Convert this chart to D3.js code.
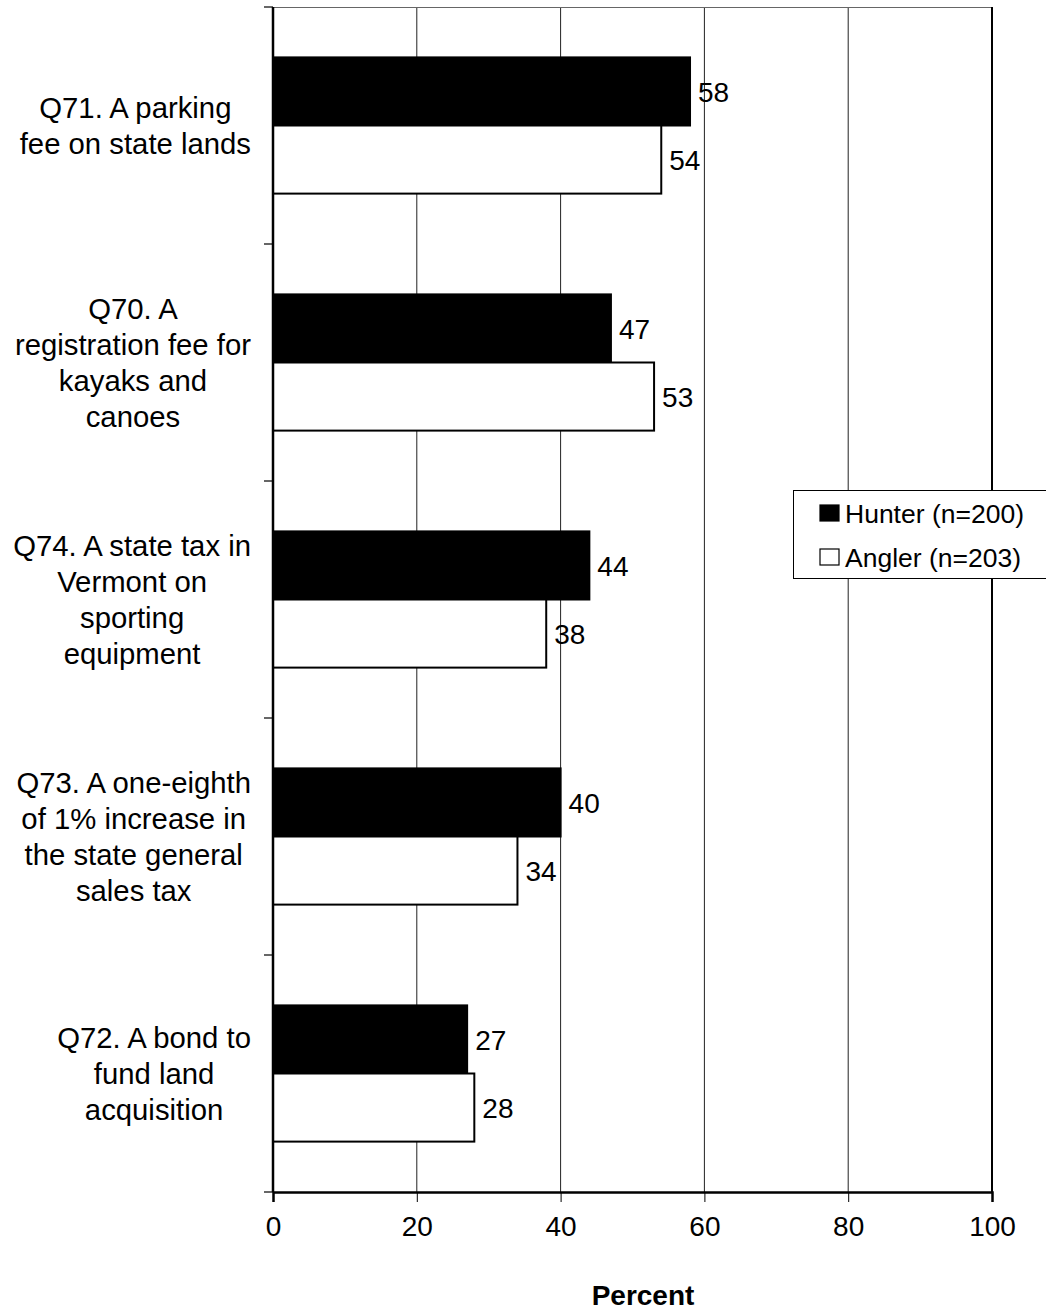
<!DOCTYPE html>
<html>
<head>
<meta charset="utf-8">
<script src="https://cdn.jsdelivr.net/npm/d3@7"></script>
<style>
  html, body { margin: 0; padding: 0; background: #fff; }
  svg { display: block; font-family: "Liberation Sans", Arial, sans-serif; }
</style>
</head>
<body>
<svg id="chart" width="1046" height="1310"></svg>
<script>
// Funding options, listed top to bottom, with their wrapped label lines
const categories = ["Q71", "Q70", "Q74", "Q73", "Q72"];
const categoryLines = [
  ["Q71. A parking", "fee on state lands"],
  ["Q70. A", "registration fee for", "kayaks and", "canoes"],
  ["Q74. A state tax in", "Vermont on", "sporting", "equipment"],
  ["Q73. A one-eighth", "of 1% increase in", "the state general", "sales tax"],
  ["Q72. A bond to", "fund land", "acquisition"]
];
const seriesNames = ["Hunter (n=200)", "Angler (n=203)"];
const hunterValues = [58, 47, 44, 40, 27];
const anglerValues = [54, 53, 38, 34, 28];
const xTicks = [0, 20, 40, 60, 80, 100];
const axisTitle = "Percent";

const svg = d3.select("#chart");
const plot = { left: 273, right: 992, top: 7, bottom: 1192 };
const fontSize = 28;
const categoryFontSize = 29.3;

const x = d3.scaleLinear().domain([0, 100]).range([plot.left, plot.right]);
const y0 = d3.scaleBand().domain(categories).range([plot.top, plot.bottom]).padding(0);
const y1 = d3.scaleBand().domain(seriesNames).range([0, y0.bandwidth()])
  .paddingInner(0).paddingOuter(0.74);

const rows = categories.map((c, i) => ({
  key: c,
  lines: categoryLines[i],
  values: [
    { series: seriesNames[0], value: hunterValues[i], fill: "#000" },
    { series: seriesNames[1], value: anglerValues[i], fill: "#fff" }
  ]
}));

// vertical gridlines
svg.append("g").selectAll("line")
  .data(xTicks.filter(t => t > 0 && t < 100))
  .join("line")
  .attr("x1", d => x(d)).attr("x2", d => x(d))
  .attr("y1", plot.top).attr("y2", plot.bottom)
  .attr("stroke", "#222").attr("stroke-width", 1);

// plot frame: top and right edges
svg.append("line")
  .attr("x1", plot.left).attr("x2", plot.right)
  .attr("y1", plot.top + 0.5).attr("y2", plot.top + 0.5)
  .attr("stroke", "#666").attr("stroke-width", 1);
svg.append("line")
  .attr("x1", plot.right).attr("x2", plot.right)
  .attr("y1", plot.top).attr("y2", plot.bottom)
  .attr("stroke", "#000").attr("stroke-width", 2);

// bars
const groups = svg.append("g").selectAll("g")
  .data(rows).join("g")
  .attr("transform", d => `translate(0,${y0(d.key)})`);

groups.selectAll("rect")
  .data(d => d.values)
  .join("rect")
  .attr("x", x(0))
  .attr("y", d => y1(d.series))
  .attr("width", d => x(d.value) - x(0))
  .attr("height", y1.bandwidth())
  .attr("fill", d => d.fill)
  .attr("stroke", "#000")
  .attr("stroke-width", 2);

// value labels
groups.selectAll("text")
  .data(d => d.values)
  .join("text")
  .attr("x", d => x(d.value) + 8)
  .attr("y", d => y1(d.series) + y1.bandwidth() / 2)
  .attr("dy", "0.36em")
  .attr("font-size", fontSize)
  .attr("fill", "#000")
  .text(d => d.value);

// left axis with outward ticks at category boundaries
const yAxis = svg.append("g");
yAxis.append("line")
  .attr("x1", plot.left).attr("x2", plot.left)
  .attr("y1", plot.top).attr("y2", plot.bottom)
  .attr("stroke", "#000").attr("stroke-width", 2.5);
const boundaries = categories.map(c => y0(c)).concat([plot.bottom]);
yAxis.selectAll("line.tick")
  .data(boundaries).join("line").attr("class", "tick")
  .attr("x1", plot.left - 9).attr("x2", plot.left)
  .attr("y1", d => d).attr("y2", d => d)
  .attr("stroke", "#000").attr("stroke-width", 1.2);

// category labels: block right-aligned, lines centred within the block
const labelRight = 251;
const lineGap = 36;
rows.forEach(r => {
  const cy = y0(r.key) + y0.bandwidth() / 2;
  const g = svg.append("g");
  const n = r.lines.length;
  const texts = r.lines.map((ln, j) => g.append("text")
    .attr("font-size", categoryFontSize)
    .attr("text-anchor", "middle")
    .attr("y", cy - (n - 1) * lineGap / 2 + j * lineGap + 10)
    .text(ln));
  const maxW = d3.max(texts, t => t.node().getComputedTextLength());
  texts.forEach(t => t.attr("x", labelRight - maxW / 2));
});

// bottom axis
const xAxis = d3.axisBottom(x).tickValues(xTicks).tickSize(10).tickPadding(14).tickFormat(d3.format("d"));
const gx = svg.append("g").attr("transform", `translate(0,${plot.bottom})`).call(xAxis);
gx.select(".domain").attr("stroke", "#000").attr("stroke-width", 2.5);
gx.selectAll(".tick line").attr("stroke", "#000").attr("stroke-width", 1);
gx.selectAll(".tick text")
  .attr("font-size", fontSize)
  .attr("font-family", "Liberation Sans, Arial, sans-serif")
  .attr("fill", "#000");

svg.append("text")
  .attr("x", 643).attr("y", 1305)
  .attr("text-anchor", "middle")
  .attr("font-size", fontSize)
  .attr("font-weight", "bold")
  .text(axisTitle);

// legend
const legend = svg.append("g");
legend.append("rect")
  .attr("x", 793.5).attr("y", 490.5)
  .attr("width", 260).attr("height", 88)
  .attr("fill", "#fff").attr("stroke", "#000").attr("stroke-width", 1);
const legendItems = [
  { name: seriesNames[0], fill: "#000", cy: 513 },
  { name: seriesNames[1], fill: "#fff", cy: 557 }
];
legendItems.forEach(it => {
  legend.append("rect")
    .attr("x", 820).attr("y", it.cy - 8)
    .attr("width", 19).attr("height", 16)
    .attr("fill", it.fill).attr("stroke", "#000").attr("stroke-width", 1.2);
  legend.append("text")
    .attr("x", 845).attr("y", it.cy).attr("dy", "0.36em")
    .attr("font-size", 26.5)
    .text(it.name);
});
</script>
</body>
</html>
